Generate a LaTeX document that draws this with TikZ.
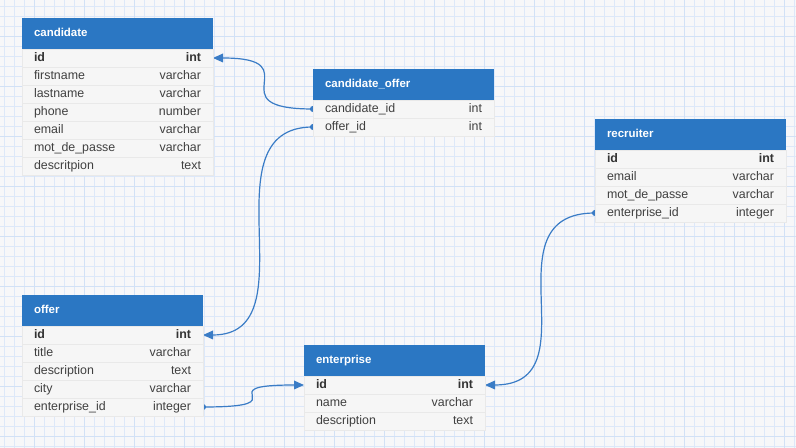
\documentclass[tikz,border=0pt]{standalone}
\usepackage{fontspec}
\setmainfont{Liberation Sans}
\usetikzlibrary{positioning,arrows.meta,backgrounds}

\definecolor{headblue}{HTML}{2B77C3}
\definecolor{linkblue}{HTML}{3A7CC6}
\definecolor{rowgray}{HTML}{F6F6F6}
\definecolor{sepgray}{HTML}{E9E9E9}
\definecolor{fieldtext}{HTML}{404040}
\definecolor{paper}{HTML}{F7F7F9}
\definecolor{gridminor}{HTML}{DDE8F9}
\definecolor{gridmajor}{HTML}{D2E1F6}

\tikzset{
  tabhead/.style={anchor=north west, fill=headblue, text=white,
    font=\fontsize{8.6}{10}\selectfont\bfseries, text width=#1,
    minimum height=23.25pt, inner xsep=9pt, inner ysep=0pt, outer sep=0pt,
    text height=6.5pt, text depth=1.8pt, align=left},
  tabrow/.style={fill=rowgray, draw=sepgray, line width=0.4pt, text=fieldtext,
    font=\fontsize{9.3}{11}\selectfont, text width=#1,
    minimum height=13.5pt, inner xsep=9pt, inner ysep=0pt, outer sep=0pt,
    text height=7pt, text depth=2pt, align=left},
  keyrow/.style={tabrow=#1, font=\fontsize{9.3}{11}\selectfont\bfseries, text=black!80},
  link/.style={linkblue, line width=0.9pt, -{Triangle[length=7.5pt,width=6.5pt]}},
}

\begin{document}
\begin{tikzpicture}[x=0.75pt,y=-0.75pt]
  \useasboundingbox (0,0) rectangle (796,448);

  % squared paper
  \begin{scope}[on background layer]
    \fill[paper] (0,0) rectangle (796,448);
    \foreach \x in {4,14,...,794} \draw[gridminor,line width=0.6pt] (\x,0) -- (\x,448);
    \foreach \y in {6,16,...,446} \draw[gridminor,line width=0.6pt] (0,\y) -- (796,\y);
    \foreach \x in {34,84,...,784} \draw[gridmajor,line width=0.6pt] (\x,0) -- (\x,448);
    \foreach \y in {36,86,...,436} \draw[gridmajor,line width=0.6pt] (0,\y) -- (796,\y);
  \end{scope}

  % candidate
  \node[tabhead=125.25pt] (cand-0) at (22,18) {candidate};
  \node[keyrow=125.25pt, below=0pt of cand-0] (cand-1) {id\hfill int};
  \foreach \f/\t [count=\i from 2, remember=\i as \j (initially 1)] in
    {firstname/varchar, lastname/varchar, phone/number, email/varchar,
     mot\_de\_passe/varchar, descritpion/text}
    \node[tabrow=125.25pt, below=0pt of cand-\j] (cand-\i) {\f\hfill\t};

  % candidate_offer
  \node[tabhead=117.75pt] (co-0) at (313,69) {candidate\_offer};
  \foreach \f/\t [count=\i, remember=\i as \j (initially 0)] in
    {candidate\_id/int, offer\_id/int}
    \node[tabrow=117.75pt, below=0pt of co-\j] (co-\i) {\f\hfill\t};

  % recruiter
  \node[tabhead=125.25pt] (rec-0) at (595,119) {recruiter};
  \node[keyrow=125.25pt, below=0pt of rec-0] (rec-1) {id\hfill int};
  \foreach \f/\t [count=\i from 2, remember=\i as \j (initially 1)] in
    {email/varchar, mot\_de\_passe/varchar, enterprise\_id/integer}
    \node[tabrow=125.25pt, below=0pt of rec-\j] (rec-\i) {\f\hfill\t};

  % offer
  \node[tabhead=117.75pt] (offer-0) at (22,295) {offer};
  \node[keyrow=117.75pt, below=0pt of offer-0] (offer-1) {id\hfill int};
  \foreach \f/\t [count=\i from 2, remember=\i as \j (initially 1)] in
    {title/varchar, description/text, city/varchar, enterprise\_id/integer}
    \node[tabrow=117.75pt, below=0pt of offer-\j] (offer-\i) {\f\hfill\t};

  % enterprise
  \node[tabhead=117.75pt] (ent-0) at (304,345) {enterprise};
  \node[keyrow=117.75pt, below=0pt of ent-0] (ent-1) {id\hfill int};
  \foreach \f/\t [count=\i from 2, remember=\i as \j (initially 1)] in
    {name/varchar, description/text}
    \node[tabrow=117.75pt, below=0pt of ent-\j] (ent-\i) {\f\hfill\t};

  % relations, behind the tables
  \begin{scope}[on background layer]
    \draw[link] (co-1.west) .. controls (co-1.west -| cand-1.east) and (cand-1.east -| co-1.west) .. (cand-1.east);
    \draw[link] (co-2.west) .. controls (co-2.west -| offer-1.east) and (offer-1.east -| co-2.west) .. (offer-1.east);
    \draw[link] (rec-4.west) .. controls (rec-4.west -| ent-1.east) and (ent-1.east -| rec-4.west) .. (ent-1.east);
    \draw[link] (offer-5.east) .. controls (offer-5.east -| ent-1.west) and (ent-1.west -| offer-5.east) .. (ent-1.west);
    \fill[linkblue] (co-1.west) circle[radius=2.3pt];
    \fill[linkblue] (co-2.west) circle[radius=2.3pt];
    \fill[linkblue] (rec-4.west) circle[radius=2.3pt];
    \fill[linkblue] (offer-5.east) circle[radius=2.3pt];
  \end{scope}
\end{tikzpicture}
\end{document}
